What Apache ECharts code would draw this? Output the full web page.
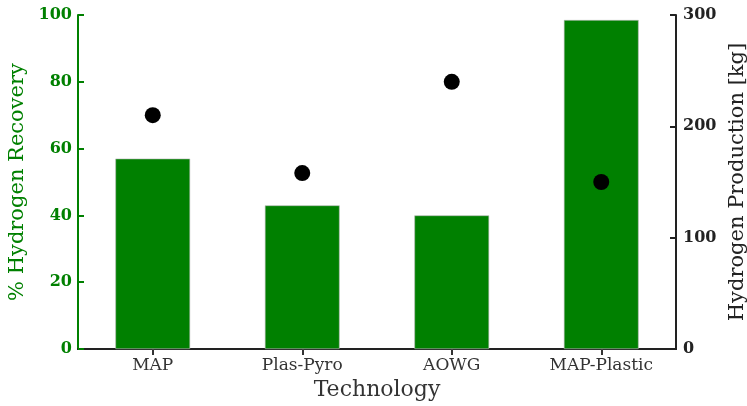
<!DOCTYPE html>
<html>
<head>
<meta charset="utf-8">
<script src="https://cdn.jsdelivr.net/npm/echarts@6/dist/echarts.min.js"></script>
<style>html,body{margin:0;padding:0;background:#fff}#c{width:747px;height:406px}</style>
</head>
<body>
<div id="c"></div>
<script>
const categories = ['MAP', 'Plas-Pyro', 'AOWG', 'MAP-Plastic'];
const recovery = [57, 43, 40, 98.5];
const production = [210, 158, 240, 150];
const leftTicks = [0, 20, 40, 60, 80, 100];
const rightTicks = [0, 100, 200, 300];

const GREEN = '#008000';
const FONT = 'DejaVu Serif';
const chart = echarts.init(document.getElementById('c'), null, {renderer: 'canvas'});
chart.setOption({
  animation: false,
  backgroundColor: '#fff',
  grid: {left: 78, right: 71, top: 15, bottom: 57, containLabel: false, outerBoundsMode: 'none'},
  xAxis: [{
    type: 'category', data: categories, position: 'bottom',
    name: 'Technology', nameLocation: 'middle', nameGap: 30,
    nameTextStyle: {fontFamily: FONT, fontSize: 22, color: '#333'},
    axisLine: {show: true, lineStyle: {color: '#222', width: 2}},
    axisTick: {show: true, inside: true, alignWithLabel: true, length: 6, lineStyle: {color: '#333', width: 2}},
    axisLabel: {fontFamily: FONT, fontSize: 17, color: '#333', margin: 8},
    splitLine: {show: false}
  }, {
    type: 'category', data: categories, position: 'top',
    axisLine: {show: true, lineStyle: {color: '#222', width: 2}},
    axisTick: {show: true, inside: true, alignWithLabel: true, length: 6, lineStyle: {color: '#333', width: 2}},
    axisLabel: {show: false},
    splitLine: {show: false}
  }],
  yAxis: [{
    type: 'value', min: 0, max: 100, interval: 20, position: 'left',
    name: '% Hydrogen Recovery', nameLocation: 'middle', nameGap: 45, nameRotate: 90,
    nameTextStyle: {fontFamily: FONT, fontSize: 21, color: GREEN},
    axisLine: {show: true, lineStyle: {color: GREEN, width: 2}},
    axisTick: {show: true, inside: true, length: 6, lineStyle: {color: GREEN, width: 2}},
    axisLabel: {fontFamily: FONT, fontSize: 16, fontWeight: 'bold', color: GREEN, margin: 6,
      formatter: v => leftTicks.includes(v) ? String(v) : ''},
    splitLine: {show: false}
  }, {
    type: 'value', min: 0, max: 300, interval: 100, position: 'right',
    name: 'Hydrogen Production [kg]', nameLocation: 'middle', nameGap: 45, nameRotate: 90,
    nameTextStyle: {fontFamily: FONT, fontSize: 21, color: '#222'},
    axisLine: {show: true, lineStyle: {color: '#222', width: 2}},
    axisTick: {show: true, inside: true, length: 6, lineStyle: {color: '#222', width: 2}},
    axisLabel: {fontFamily: FONT, fontSize: 16, fontWeight: 'bold', color: '#222', margin: 7,
      formatter: v => rightTicks.includes(v) ? String(v) : ''},
    splitLine: {show: false}
  }],
  series: [{
    type: 'bar', xAxisIndex: 0, yAxisIndex: 0, data: recovery, barWidth: '50%',
    itemStyle: {color: GREEN, borderColor: '#bbb', borderWidth: 0.6}, z: 2
  }, {
    type: 'scatter', xAxisIndex: 0, yAxisIndex: 1, data: production, symbol: 'circle', symbolSize: 16,
    itemStyle: {color: '#000', opacity: 1}, z: 3
  }]
});
</script>
</body>
</html>
